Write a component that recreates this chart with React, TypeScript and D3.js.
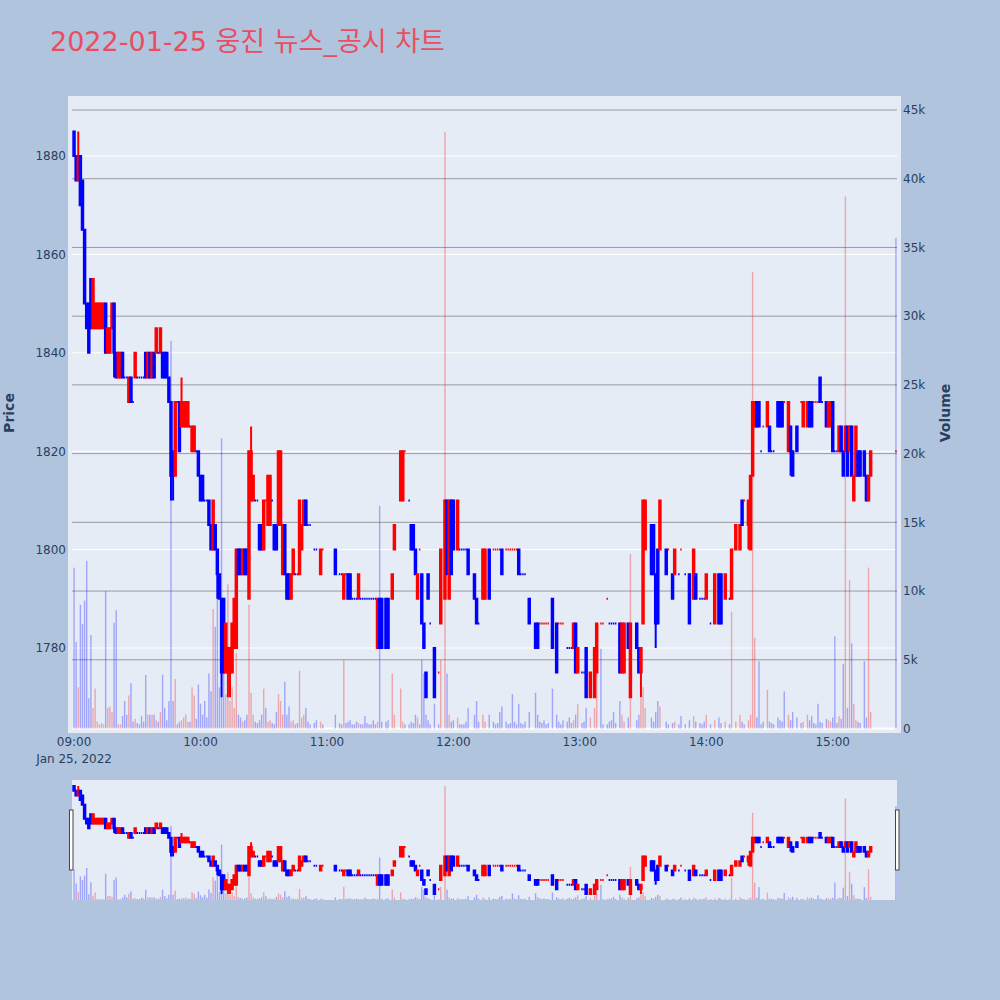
import * as d3 from 'd3';
import { useEffect, useRef } from 'react';

// one-minute candles, 2022-01-25 (minutes with no trade are left out)
const times = [
  '09:00', '09:01', '09:02', '09:03', '09:04', '09:05', '09:06', '09:07', '09:08', '09:09',
  '09:10', '09:11', '09:12', '09:13', '09:14', '09:15', '09:16', '09:17', '09:18', '09:19',
  '09:20', '09:21', '09:22', '09:23', '09:24', '09:25', '09:26', '09:27', '09:28', '09:29',
  '09:30', '09:31', '09:32', '09:33', '09:34', '09:35', '09:36', '09:37', '09:38', '09:39',
  '09:40', '09:41', '09:42', '09:43', '09:44', '09:45', '09:46', '09:47', '09:48', '09:49',
  '09:50', '09:51', '09:52', '09:53', '09:54', '09:55', '09:56', '09:57', '09:58', '09:59',
  '10:00', '10:01', '10:02', '10:03', '10:04', '10:05', '10:06', '10:07', '10:08', '10:09',
  '10:10', '10:11', '10:12', '10:13', '10:14', '10:15', '10:16', '10:17', '10:18', '10:19',
  '10:20', '10:21', '10:22', '10:23', '10:24', '10:25', '10:26', '10:27', '10:28', '10:29',
  '10:30', '10:31', '10:32', '10:33', '10:34', '10:35', '10:36', '10:37', '10:38', '10:39',
  '10:40', '10:41', '10:42', '10:43', '10:44', '10:45', '10:46', '10:47', '10:48', '10:49',
  '10:50', '10:51', '10:52', '10:54', '10:55', '10:57', '10:58', '11:04', '11:06', '11:07',
  '11:08', '11:09', '11:10', '11:11', '11:12', '11:13', '11:14', '11:15', '11:16', '11:17',
  '11:18', '11:19', '11:20', '11:21', '11:22', '11:23', '11:24', '11:25', '11:26', '11:28',
  '11:29', '11:31', '11:32', '11:35', '11:36', '11:37', '11:39', '11:40', '11:41', '11:42',
  '11:43', '11:44', '11:45', '11:46', '11:47', '11:48', '11:49', '11:51', '11:53', '11:54',
  '11:56', '11:57', '11:58', '11:59', '12:00', '12:02', '12:03', '12:04', '12:05', '12:06',
  '12:07', '12:10', '12:11', '12:12', '12:14', '12:15', '12:17', '12:19', '12:20', '12:21',
  '12:22', '12:23', '12:25', '12:26', '12:27', '12:28', '12:29', '12:30', '12:31', '12:32',
  '12:33', '12:34', '12:36', '12:39', '12:40', '12:41', '12:42', '12:43', '12:44', '12:45',
  '12:47', '12:49', '12:50', '12:51', '12:52', '12:54', '12:55', '12:56', '12:57', '12:58',
  '12:59', '13:01', '13:02', '13:03', '13:05', '13:07', '13:08', '13:10', '13:11', '13:13',
  '13:14', '13:15', '13:16', '13:17', '13:19', '13:20', '13:21', '13:23', '13:24', '13:27',
  '13:28', '13:29', '13:30', '13:31', '13:34', '13:35', '13:36', '13:37', '13:38', '13:41',
  '13:42', '13:44', '13:45', '13:47', '13:48', '13:50', '13:52', '13:54', '13:55', '13:57',
  '13:58', '13:59', '14:00', '14:02', '14:04', '14:06', '14:07', '14:09', '14:11', '14:12',
  '14:14', '14:16', '14:17', '14:18', '14:20', '14:21', '14:22', '14:23', '14:24', '14:25',
  '14:26', '14:27', '14:29', '14:30', '14:31', '14:32', '14:34', '14:35', '14:36', '14:37',
  '14:39', '14:40', '14:41', '14:43', '14:45', '14:46', '14:48', '14:49', '14:50', '14:51',
  '14:52', '14:53', '14:54', '14:55', '14:57', '14:58', '14:59', '15:00', '15:01', '15:02',
  '15:03', '15:04', '15:05', '15:06', '15:07', '15:08', '15:09', '15:10', '15:11', '15:12',
  '15:13', '15:15', '15:16', '15:17', '15:18', '15:30',
];

const opens = [
  1885, 1880, 1875, 1880, 1875, 1865, 1850, 1850, 1855, 1845,
  1845, 1845, 1845, 1845, 1845, 1850, 1840, 1840, 1845, 1850,
  1840, 1835, 1835, 1840, 1835, 1835, 1830, 1835, 1830, 1835,
  1835, 1835, 1835, 1835, 1840, 1835, 1840, 1835, 1840, 1840,
  1840, 1840, 1840, 1840, 1840, 1835, 1830, 1820, 1815, 1830,
  1830, 1825, 1825, 1825, 1825, 1825, 1820, 1820, 1820, 1820,
  1815, 1815, 1810, 1810, 1810, 1805, 1800, 1805, 1800, 1795,
  1790, 1790, 1775, 1775, 1775, 1775, 1780, 1780, 1800, 1800,
  1795, 1800, 1800, 1790, 1810, 1810, 1810, 1810, 1805, 1805,
  1800, 1810, 1805, 1805, 1810, 1805, 1805, 1805, 1805, 1795,
  1805, 1795, 1795, 1790, 1795, 1795, 1795, 1795, 1800, 1805,
  1810, 1805, 1805, 1800, 1800, 1795, 1800, 1800, 1795, 1795,
  1790, 1795, 1795, 1795, 1790, 1790, 1790, 1790, 1790, 1790,
  1790, 1790, 1790, 1790, 1790, 1790, 1780, 1790, 1790, 1790,
  1790, 1790, 1800, 1810, 1810, 1820, 1810, 1805, 1805, 1800,
  1790, 1800, 1795, 1785, 1775, 1795, 1785, 1780, 1775, 1785,
  1790, 1810, 1790, 1810, 1810, 1800, 1800, 1800, 1800, 1800,
  1800, 1795, 1790, 1785, 1790, 1790, 1800, 1800, 1800, 1800,
  1800, 1800, 1800, 1800, 1800, 1800, 1800, 1800, 1800, 1795,
  1795, 1795, 1790, 1785, 1785, 1785, 1785, 1785, 1785, 1785,
  1790, 1785, 1785, 1785, 1785, 1780, 1780, 1780, 1780, 1785,
  1775, 1775, 1775, 1780, 1770, 1770, 1775, 1785, 1785, 1790,
  1785, 1785, 1785, 1785, 1785, 1775, 1775, 1785, 1770, 1785,
  1780, 1775, 1785, 1800, 1805, 1805, 1795, 1800, 1800, 1800,
  1800, 1795, 1795, 1795, 1800, 1795, 1795, 1790, 1795, 1790,
  1790, 1790, 1790, 1785, 1785, 1795, 1795, 1790, 1790, 1790,
  1800, 1800, 1810, 1810, 1805, 1800, 1815, 1825, 1830, 1830,
  1820, 1825, 1825, 1825, 1820, 1820, 1830, 1830, 1830, 1830,
  1820, 1825, 1820, 1825, 1830, 1825, 1825, 1830, 1830, 1830,
  1830, 1830, 1835, 1830, 1830, 1825, 1825, 1830, 1820, 1820,
  1820, 1825, 1820, 1820, 1825, 1820, 1825, 1810, 1815, 1820,
  1820, 1820, 1815, 1810, 1815, 1820,
];

const highs = [
  1885, 1880, 1885, 1880, 1875, 1865, 1850, 1850, 1855, 1855,
  1850, 1850, 1850, 1850, 1850, 1850, 1845, 1845, 1850, 1850,
  1840, 1840, 1840, 1840, 1835, 1835, 1835, 1835, 1830, 1840,
  1835, 1835, 1835, 1835, 1840, 1840, 1840, 1840, 1840, 1845,
  1840, 1845, 1840, 1840, 1840, 1835, 1830, 1820, 1830, 1830,
  1830, 1835, 1830, 1830, 1830, 1825, 1825, 1825, 1820, 1820,
  1815, 1815, 1810, 1810, 1810, 1805, 1810, 1805, 1800, 1795,
  1790, 1790, 1785, 1780, 1780, 1785, 1790, 1800, 1800, 1800,
  1800, 1800, 1800, 1820, 1825, 1815, 1810, 1810, 1805, 1805,
  1810, 1810, 1815, 1815, 1810, 1805, 1805, 1820, 1820, 1805,
  1805, 1795, 1795, 1795, 1800, 1795, 1795, 1810, 1805, 1810,
  1810, 1805, 1805, 1800, 1800, 1800, 1800, 1800, 1795, 1795,
  1795, 1795, 1795, 1795, 1790, 1790, 1790, 1795, 1790, 1790,
  1790, 1790, 1790, 1790, 1790, 1790, 1790, 1790, 1790, 1790,
  1790, 1795, 1805, 1820, 1820, 1820, 1810, 1805, 1805, 1800,
  1795, 1800, 1795, 1785, 1775, 1795, 1785, 1780, 1775, 1800,
  1810, 1810, 1810, 1810, 1810, 1810, 1800, 1800, 1800, 1800,
  1800, 1795, 1790, 1785, 1800, 1800, 1800, 1800, 1800, 1800,
  1800, 1800, 1800, 1800, 1800, 1800, 1800, 1800, 1800, 1795,
  1795, 1795, 1790, 1785, 1785, 1785, 1785, 1785, 1785, 1785,
  1790, 1785, 1785, 1785, 1785, 1780, 1780, 1780, 1785, 1785,
  1780, 1775, 1775, 1780, 1775, 1780, 1785, 1785, 1785, 1790,
  1785, 1785, 1785, 1785, 1785, 1785, 1785, 1785, 1785, 1785,
  1780, 1780, 1810, 1810, 1805, 1805, 1795, 1800, 1810, 1800,
  1800, 1795, 1800, 1795, 1800, 1795, 1795, 1800, 1795, 1790,
  1790, 1790, 1795, 1785, 1795, 1795, 1795, 1795, 1790, 1800,
  1805, 1805, 1810, 1810, 1810, 1815, 1830, 1830, 1830, 1830,
  1820, 1825, 1830, 1825, 1820, 1820, 1830, 1830, 1830, 1830,
  1830, 1825, 1820, 1825, 1830, 1830, 1830, 1830, 1830, 1830,
  1830, 1830, 1835, 1830, 1830, 1830, 1830, 1830, 1820, 1820,
  1825, 1825, 1820, 1825, 1825, 1825, 1825, 1815, 1825, 1820,
  1820, 1820, 1815, 1815, 1820, 1820,
];

const lows = [
  1880, 1875, 1875, 1870, 1865, 1850, 1845, 1840, 1845, 1845,
  1845, 1845, 1845, 1845, 1845, 1840, 1840, 1840, 1845, 1835,
  1835, 1835, 1835, 1835, 1835, 1835, 1830, 1830, 1830, 1835,
  1835, 1835, 1835, 1835, 1835, 1835, 1835, 1835, 1835, 1840,
  1840, 1840, 1835, 1835, 1835, 1830, 1810, 1810, 1815, 1830,
  1820, 1825, 1825, 1825, 1825, 1825, 1820, 1820, 1820, 1815,
  1810, 1810, 1810, 1810, 1805, 1800, 1800, 1800, 1790, 1790,
  1770, 1775, 1775, 1770, 1770, 1775, 1780, 1780, 1795, 1795,
  1795, 1795, 1795, 1790, 1810, 1810, 1810, 1810, 1800, 1800,
  1800, 1810, 1805, 1805, 1810, 1800, 1800, 1805, 1805, 1795,
  1795, 1790, 1790, 1790, 1795, 1795, 1795, 1795, 1800, 1805,
  1805, 1805, 1805, 1800, 1800, 1795, 1800, 1795, 1795, 1795,
  1790, 1795, 1790, 1790, 1790, 1790, 1790, 1790, 1790, 1790,
  1790, 1790, 1790, 1790, 1790, 1790, 1780, 1780, 1780, 1780,
  1780, 1790, 1800, 1810, 1810, 1820, 1810, 1800, 1800, 1795,
  1790, 1800, 1785, 1780, 1770, 1790, 1785, 1770, 1775, 1785,
  1790, 1795, 1790, 1795, 1800, 1800, 1800, 1800, 1800, 1800,
  1795, 1790, 1785, 1785, 1790, 1790, 1790, 1800, 1800, 1800,
  1800, 1795, 1800, 1800, 1800, 1800, 1800, 1800, 1795, 1795,
  1795, 1795, 1785, 1780, 1780, 1785, 1785, 1785, 1785, 1785,
  1780, 1775, 1785, 1785, 1785, 1780, 1780, 1780, 1780, 1775,
  1775, 1775, 1775, 1770, 1770, 1770, 1775, 1785, 1785, 1790,
  1785, 1785, 1785, 1785, 1775, 1775, 1775, 1780, 1770, 1780,
  1775, 1770, 1785, 1800, 1795, 1795, 1780, 1785, 1800, 1795,
  1800, 1790, 1795, 1795, 1800, 1795, 1785, 1790, 1790, 1790,
  1790, 1790, 1790, 1785, 1785, 1785, 1785, 1790, 1790, 1790,
  1800, 1800, 1805, 1810, 1800, 1800, 1815, 1825, 1825, 1825,
  1820, 1825, 1825, 1820, 1820, 1820, 1825, 1825, 1825, 1830,
  1820, 1815, 1815, 1820, 1830, 1825, 1825, 1825, 1825, 1830,
  1830, 1830, 1830, 1830, 1825, 1825, 1825, 1820, 1820, 1820,
  1820, 1820, 1815, 1820, 1815, 1820, 1815, 1810, 1815, 1815,
  1815, 1815, 1810, 1810, 1815, 1820,
];

const closes = [
  1880, 1875, 1880, 1870, 1865, 1850, 1845, 1840, 1845, 1855,
  1850, 1850, 1850, 1850, 1850, 1840, 1845, 1845, 1850, 1840,
  1835, 1840, 1840, 1835, 1835, 1835, 1835, 1830, 1830, 1840,
  1835, 1835, 1835, 1835, 1835, 1840, 1835, 1840, 1835, 1845,
  1840, 1845, 1835, 1835, 1835, 1830, 1815, 1815, 1830, 1830,
  1820, 1830, 1830, 1830, 1830, 1825, 1825, 1825, 1820, 1815,
  1810, 1810, 1810, 1810, 1805, 1800, 1810, 1800, 1795, 1790,
  1775, 1775, 1785, 1780, 1780, 1785, 1790, 1800, 1795, 1795,
  1800, 1795, 1795, 1820, 1820, 1815, 1810, 1810, 1800, 1800,
  1810, 1810, 1815, 1815, 1810, 1800, 1800, 1820, 1820, 1805,
  1795, 1790, 1790, 1795, 1800, 1795, 1795, 1810, 1805, 1810,
  1805, 1805, 1805, 1800, 1800, 1800, 1800, 1795, 1795, 1795,
  1795, 1795, 1790, 1790, 1790, 1790, 1790, 1795, 1790, 1790,
  1790, 1790, 1790, 1790, 1790, 1790, 1790, 1780, 1780, 1780,
  1780, 1795, 1805, 1820, 1820, 1820, 1810, 1800, 1800, 1795,
  1795, 1800, 1785, 1780, 1770, 1790, 1785, 1770, 1775, 1800,
  1810, 1795, 1810, 1795, 1800, 1810, 1800, 1800, 1800, 1800,
  1795, 1790, 1785, 1785, 1800, 1800, 1790, 1800, 1800, 1800,
  1800, 1795, 1800, 1800, 1800, 1800, 1800, 1800, 1795, 1795,
  1795, 1795, 1785, 1780, 1780, 1785, 1785, 1785, 1785, 1785,
  1780, 1775, 1785, 1785, 1785, 1780, 1780, 1780, 1785, 1775,
  1780, 1775, 1775, 1770, 1775, 1780, 1785, 1785, 1785, 1790,
  1785, 1785, 1785, 1785, 1775, 1785, 1785, 1780, 1785, 1780,
  1775, 1780, 1810, 1810, 1795, 1795, 1785, 1785, 1810, 1795,
  1800, 1790, 1800, 1795, 1800, 1795, 1785, 1800, 1790, 1790,
  1790, 1790, 1795, 1785, 1795, 1785, 1785, 1795, 1790, 1800,
  1805, 1805, 1805, 1810, 1810, 1815, 1830, 1830, 1825, 1825,
  1820, 1825, 1830, 1820, 1820, 1820, 1825, 1825, 1825, 1830,
  1830, 1820, 1815, 1820, 1830, 1830, 1830, 1825, 1825, 1830,
  1830, 1830, 1830, 1830, 1825, 1830, 1830, 1820, 1820, 1820,
  1825, 1820, 1815, 1825, 1815, 1825, 1815, 1815, 1825, 1815,
  1815, 1815, 1810, 1815, 1820, 1820,
];

const volumes = [
  11700, 6300, 3000, 9000, 7600, 9300, 12200, 2200, 6800, 1500,
  2900, 500, 300, 400, 300, 10000, 1500, 1600, 1200, 7700,
  8600, 300, 300, 900, 2000, 1000, 2400, 3300, 500, 700,
  400, 300, 900, 500, 3900, 1000, 1000, 1000, 1000, 600,
  500, 1200, 3900, 1500, 600, 2000, 28200, 2000, 3600, 300,
  500, 600, 800, 1000, 500, 500, 3000, 2400, 700, 3200,
  1800, 1000, 2000, 800, 4000, 2700, 8700, 7400, 11900, 3000,
  21100, 4500, 2500, 10500, 2000, 3000, 1500, 5500, 1000, 800,
  500, 600, 1000, 9000, 2600, 1000, 500, 400, 600, 1000,
  2900, 1500, 500, 600, 400, 300, 1200, 2500, 2000, 1000,
  3400, 1000, 1600, 500, 600, 300, 400, 4200, 800, 1000,
  1500, 500, 300, 400, 600, 500, 300, 1000, 400, 300,
  5000, 400, 500, 600, 300, 300, 500, 400, 300, 300,
  900, 400, 300, 300, 600, 300, 500, 16200, 500, 500,
  600, 4000, 1000, 2900, 500, 300, 300, 500, 400, 1000,
  800, 300, 5000, 4000, 1000, 600, 300, 1800, 300, 5000,
  43400, 4000, 1000, 500, 600, 800, 300, 300, 300, 500,
  1500, 1000, 2000, 500, 1000, 500, 1000, 500, 300, 400,
  1200, 1600, 500, 300, 400, 2500, 500, 300, 1800, 400,
  300, 500, 1200, 2600, 1000, 500, 400, 600, 300, 400,
  2900, 1000, 500, 300, 600, 500, 800, 400, 600, 1000,
  1800, 400, 500, 1500, 800, 1500, 6000, 5800, 300, 300,
  500, 600, 1200, 400, 2000, 1000, 500, 800, 12700, 600,
  1000, 2200, 3000, 1500, 800, 500, 1200, 2000, 1600, 500,
  300, 400, 500, 300, 900, 300, 600, 900, 500, 400,
  300, 500, 1000, 300, 600, 800, 400, 500, 300, 8500,
  500, 1000, 500, 300, 600, 1000, 33200, 6600, 800, 4900,
  300, 500, 2800, 500, 400, 300, 800, 600, 500, 2700,
  1000, 600, 1200, 800, 400, 500, 1000, 600, 900, 400,
  300, 1800, 500, 400, 700, 600, 500, 800, 6700, 400,
  900, 700, 4700, 38700, 1500, 10800, 6200, 1800, 600, 500,
  400, 4900, 800, 11700, 1200, 35700,
];

const priceTicks = [1780, 1800, 1820, 1840, 1860, 1880];
const volumeTicks = [0, 5000, 10000, 15000, 20000, 25000, 30000, 35000, 40000, 45000];

const UP = '#ff0000';
const DOWN = '#0000ff';
const FONT = '"DejaVu Sans", Verdana, sans-serif';

const toDate = (t: string) => {
  const [h, m] = t.split(':').map(Number);
  return new Date(2022, 0, 25, h, m);
};

export default function App() {
  const ref = useRef<SVGSVGElement | null>(null);

  useEffect(() => {
    const svg = d3.select(ref.current);
    svg.selectAll('*').remove();

    // plotly style direction: flat candles keep the change against the previous close
    let increasing = true;
    let prevClose: number | null = null;
    const rows = times.map((t, i) => {
      const o = opens[i];
      const c = closes[i];
      if (c === o) {
        if (prevClose !== null && c !== prevClose) increasing = c > prevClose;
      } else increasing = c > o;
      prevClose = c;
      return { date: toDate(t), o, h: highs[i], l: lows[i], c, v: volumes[i], up: increasing, volUp: c > o };
    });

    const x = d3
      .scaleTime()
      .domain([new Date(2022, 0, 25, 8, 59, 30), new Date(2022, 0, 25, 15, 30, 30)])
      .range([73, 897]);
    const halfBox = (x(toDate('09:01')) - x(toDate('09:00'))) * 0.35;

    const yPrice = d3.scaleLinear().domain([1780, 1880]).range([648, 156]);
    const yVolume = d3.scaleLinear().domain([0, 45000]).range([728.5, 110]);
    const sliderPrice = d3.scaleLinear().domain([yPrice.invert(728.5), yPrice.invert(100)]).range([900, 780]);
    const sliderVolume = d3.scaleLinear().domain([0, yVolume.invert(100)]).range([900, 780]);

    svg.append('rect').attr('width', 1000).attr('height', 1000).attr('fill', '#b0c4de');

    const defs = svg.append('defs');
    defs.append('clipPath').attr('id', 'main-clip').append('rect')
      .attr('x', 68).attr('y', 96).attr('width', 833).attr('height', 637);
    defs.append('clipPath').attr('id', 'slider-clip').append('rect')
      .attr('x', 72).attr('y', 780).attr('width', 825).attr('height', 120);

    // plot background
    svg.append('rect').attr('x', 68).attr('y', 96).attr('width', 833).attr('height', 637).attr('fill', '#e5ecf6');

    const grid = svg.append('g');
    grid.selectAll('line.price')
      .data(priceTicks)
      .join('line')
      .attr('x1', 72).attr('x2', 897)
      .attr('y1', (d) => yPrice(d)).attr('y2', (d) => yPrice(d))
      .attr('stroke', '#ffffff').attr('stroke-width', 1);
    grid.selectAll('line.volume')
      .data(volumeTicks.slice(1))
      .join('line')
      .attr('x1', 72).attr('x2', 897)
      .attr('y1', (d) => yVolume(d)).attr('y2', (d) => yVolume(d))
      .attr('stroke', '#9b9b9b').attr('stroke-width', 1);
    grid.append('line')
      .attr('x1', 72).attr('x2', 897)
      .attr('y1', yVolume(0)).attr('y2', yVolume(0))
      .attr('stroke', '#ffffff').attr('stroke-width', 2);

    const drawSeries = (
      g: d3.Selection<SVGGElement, unknown, null, undefined>,
      yp: d3.ScaleLinear<number, number>,
      yv: d3.ScaleLinear<number, number>,
    ) => {
      g.selectAll('rect.vol')
        .data(rows)
        .join('rect')
        .attr('x', (d) => x(d.date) - 0.7)
        .attr('width', 1.4)
        .attr('y', (d) => yv(d.v))
        .attr('height', (d) => yv(0) - yv(d.v))
        .attr('fill', (d) => (d.volUp ? UP : DOWN))
        .attr('fill-opacity', 0.3);

      g.selectAll('path.candle')
        .data(rows)
        .join('path')
        .attr('d', (d) => {
          const cx = x(d.date);
          const top = yp(Math.max(d.o, d.c));
          const bottom = yp(Math.min(d.o, d.c));
          return (
            `M${cx - halfBox},${top}H${cx + halfBox}V${bottom}H${cx - halfBox}Z` +
            `M${cx},${bottom}V${yp(d.l)}M${cx},${top}V${yp(d.h)}`
          );
        })
        .attr('fill', (d) => (d.up ? UP : DOWN))
        .attr('stroke', (d) => (d.up ? UP : DOWN))
        .attr('stroke-width', 2);
    };

    drawSeries(svg.append('g').attr('clip-path', 'url(#main-clip)'), yPrice, yVolume);

    // range slider
    svg.append('rect').attr('x', 72).attr('y', 780).attr('width', 825).attr('height', 120).attr('fill', '#e5ecf6');
    drawSeries(svg.append('g').attr('clip-path', 'url(#slider-clip)'), sliderPrice, sliderVolume);
    [69.5, 895.5].forEach((hx) => {
      svg.append('rect')
        .attr('x', hx).attr('y', 810).attr('width', 3.5).attr('height', 60)
        .attr('fill', '#ffffff').attr('stroke', '#444444').attr('stroke-width', 1);
    });

    const labels = svg.append('g').attr('font-family', FONT).attr('fill', '#2a3f5f');
    labels.selectAll('text.price')
      .data(priceTicks)
      .join('text')
      .attr('x', 66)
      .attr('y', (d) => yPrice(d))
      .attr('dy', '0.36em')
      .attr('text-anchor', 'end')
      .attr('font-size', 12)
      .text((d) => d);
    labels.selectAll('text.volume')
      .data(volumeTicks)
      .join('text')
      .attr('x', 903)
      .attr('y', (d) => yVolume(d))
      .attr('dy', '0.36em')
      .attr('font-size', 12)
      .text((d) => d3.format('~s')(d));

    const hours = d3.timeHour.range(toDate('09:00'), toDate('15:01'));
    labels.selectAll('text.time')
      .data(hours)
      .join('text')
      .attr('x', (d) => x(d))
      .attr('y', 746)
      .attr('text-anchor', 'middle')
      .attr('font-size', 12)
      .text((d) => d3.timeFormat('%H:%M')(d));
    labels.append('text')
      .attr('x', x(hours[0]))
      .attr('y', 763)
      .attr('text-anchor', 'middle')
      .attr('font-size', 12)
      .text('Jan 25, 2022');

    labels.append('text')
      .attr('transform', 'translate(14,413) rotate(-90)')
      .attr('text-anchor', 'middle')
      .attr('font-size', 14)
      .attr('font-weight', 'bold')
      .text('Price');
    labels.append('text')
      .attr('transform', 'translate(950,413) rotate(-90)')
      .attr('text-anchor', 'middle')
      .attr('font-size', 14)
      .attr('font-weight', 'bold')
      .text('Volume');

    svg.append('text')
      .attr('x', 50)
      .attr('y', 51)
      .attr('font-family', '"DejaVu Sans", "Noto Sans CJK KR", sans-serif')
      .attr('font-size', 27)
      .attr('fill', '#ea4d62')
      .text('2022-01-25 웅진 뉴스_공시 차트');
  }, []);

  return (
    <svg
      ref={ref}
      width={1000}
      height={1000}
      style={{ position: 'absolute', left: 0, top: 0, display: 'block' }}
    />
  );
}
